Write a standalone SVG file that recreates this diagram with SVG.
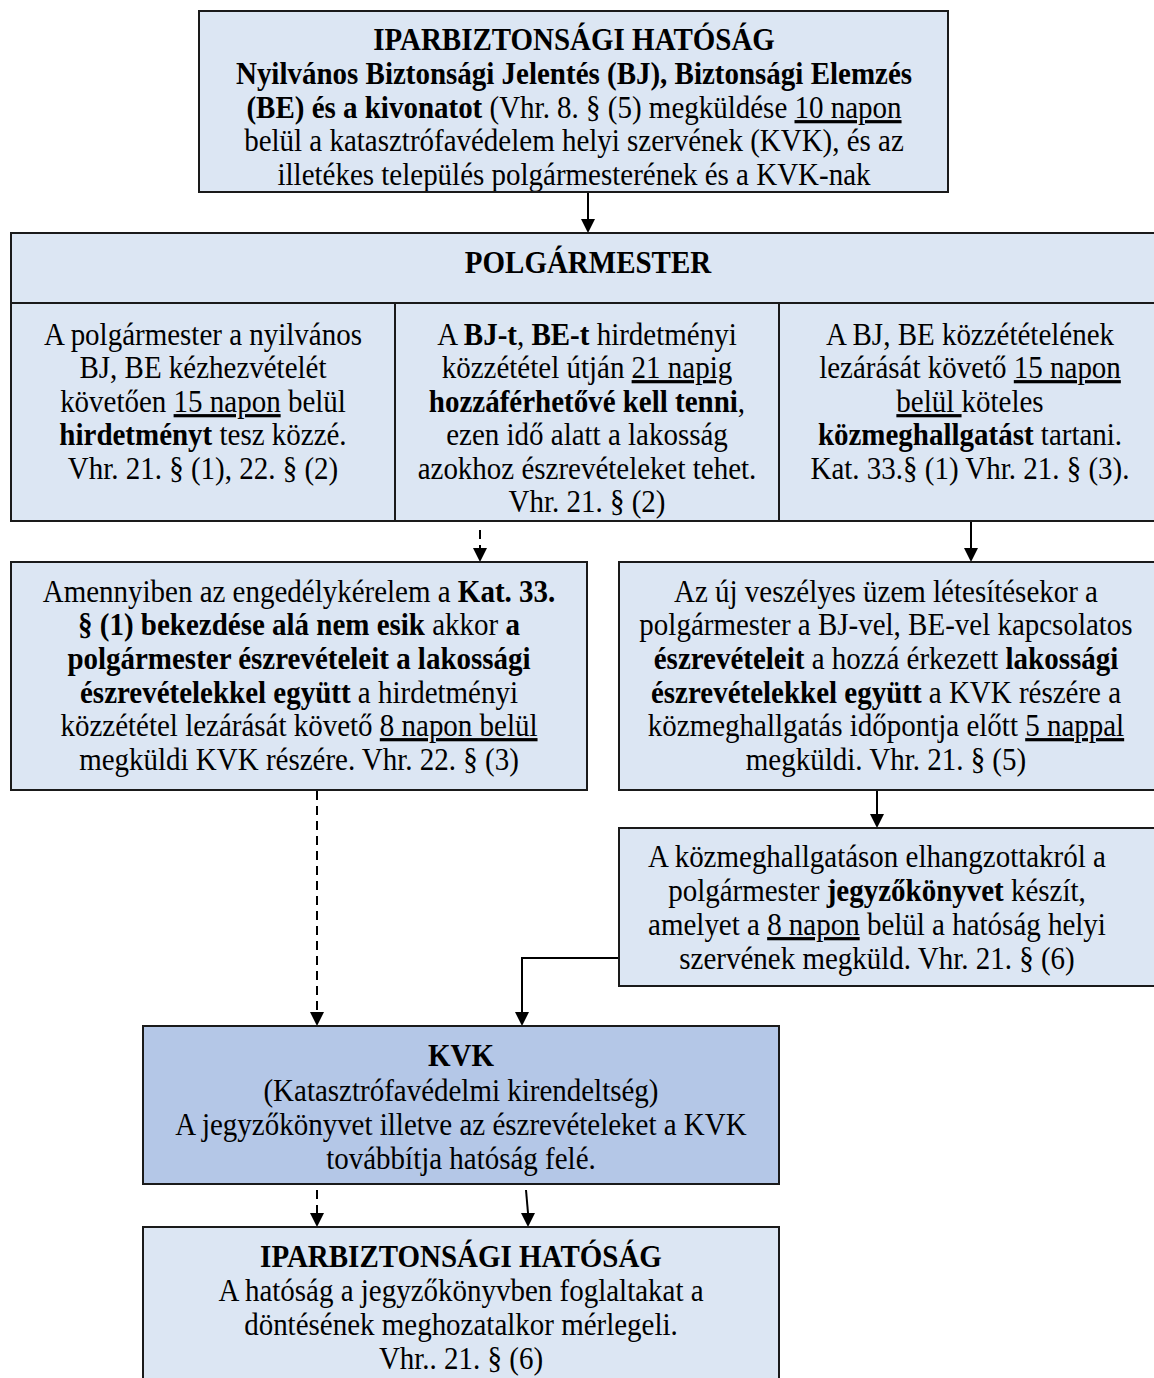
<svg xmlns="http://www.w3.org/2000/svg" width="1154" height="1378" viewBox="0 0 1154 1378">
<style>
.box{fill:#dce6f3;stroke:#1a1a1a;stroke-width:2}
.kvk{fill:#b4c7e7;stroke:#1a1a1a;stroke-width:2}
text{font-family:"Liberation Serif","Times New Roman",serif;font-size:32px;fill:#000;text-anchor:middle}
.b{font-weight:bold}
.u{text-decoration:underline}
.ln{stroke:#000;stroke-width:2;fill:none}
.dash{stroke:#000;stroke-width:2;fill:none;stroke-dasharray:9 6}
</style>
<defs>
<clipPath id="c1"><rect x="200" y="12" width="747" height="179"/></clipPath>
<clipPath id="c2"><rect x="396" y="304" width="382" height="216"/></clipPath>
</defs>

<g id="connectors">
<line class="ln" x1="588" y1="192" x2="588" y2="219"/>
<path d="M581,219 L595,219 L588,233 Z"/>
<line class="dash" x1="480" y1="530" x2="480" y2="548"/>
<path d="M473,548 L487,548 L480,562 Z"/>
<line class="ln" x1="971" y1="521" x2="971" y2="548"/>
<path d="M964,548 L978,548 L971,562 Z"/>
<line class="ln" x1="877" y1="790" x2="877" y2="814"/>
<path d="M870,814 L884,814 L877,828 Z"/>
<line class="dash" x1="317" y1="791" x2="317" y2="1012"/>
<path d="M310,1012 L324,1012 L317,1026 Z"/>
<path class="ln" d="M619,958 L522,958 L522,1012"/>
<path d="M515,1012 L529,1012 L522,1026 Z"/>
<line class="dash" x1="317" y1="1190" x2="317" y2="1213"/>
<path d="M310,1213 L324,1213 L317,1227 Z"/>
<line class="ln" x1="526" y1="1190" x2="528" y2="1213"/>
<path d="M521,1213 L535,1213 L528,1227 Z"/>
</g>

<g id="n1">
<rect class="box" x="199" y="11" width="749" height="181"/>
<g clip-path="url(#c1)">
<g transform="matrix(0.906,0,0,1,53.96,0)">
<text x="574" y="50" class="b">IPARBIZTONSÁGI HATÓSÁG</text>
<text x="574" y="84" class="b">Nyilvános Biztonsági Jelentés (BJ), Biztonsági Elemzés</text>
<text x="574" y="118"><tspan class="b">(BE) és a kivonatot</tspan> (Vhr. 8. § (5) megküldése <tspan class="u">10 napon</tspan></text>
<text x="574" y="151">belül a katasztrófavédelem helyi szervének (KVK), és az</text>
<text x="574" y="185">illetékes település polgármesterének és a KVK-nak</text>
</g>
</g>
</g>

<g id="n2">
<rect class="box" x="11" y="233" width="1160" height="70"/>
<g transform="matrix(0.906,0,0,1,55.27,0)">
<text x="588" y="273" class="b">POLGÁRMESTER</text>
</g>
</g>

<g id="n3">
<rect class="box" x="11" y="303" width="384" height="218"/>
<g transform="matrix(0.906,0,0,1,19.08,0)">
<text x="203" y="345">A polgármester a nyilvános</text>
<text x="203" y="378">BJ, BE kézhezvételét</text>
<text x="203" y="412">követően <tspan class="u">15 napon</tspan> belül</text>
<text x="203" y="445"><tspan class="b">hirdetményt</tspan> tesz közzé.</text>
<text x="203" y="479">Vhr. 21. § (1), 22. § (2)</text>
</g>
</g>

<g id="n4">
<rect class="box" x="395" y="303" width="384" height="218"/>
<g clip-path="url(#c2)">
<g transform="matrix(0.906,0,0,1,55.18,0)">
<text x="587" y="345">A <tspan class="b">BJ-t</tspan>, <tspan class="b">BE-t</tspan> hirdetményi</text>
<text x="587" y="378">közzététel útján <tspan class="u">21 napig</tspan></text>
<text x="587" y="412"><tspan class="b">hozzáférhetővé kell tenni</tspan>,</text>
<text x="587" y="445">ezen idő alatt a lakosság</text>
<text x="587" y="479">azokhoz észrevételeket tehet.</text>
<text x="587" y="512">Vhr. 21. § (2)</text>
</g>
</g>
</g>

<g id="n5">
<rect class="box" x="779" y="303" width="392" height="218"/>
<g transform="matrix(0.906,0,0,1,91.18,0)">
<text x="970" y="345">A BJ, BE közzétételének</text>
<text x="970" y="378">lezárását követő <tspan class="u">15 napon</tspan></text>
<text x="970" y="412"><tspan class="u">belül </tspan>köteles</text>
<text x="970" y="445"><tspan class="b">közmeghallgatást</tspan> tartani.</text>
<text x="970" y="479">Kat. 33.§ (1) Vhr. 21. § (3).</text>
</g>
</g>

<g id="n6">
<rect class="box" x="11" y="562" width="576" height="228"/>
<g transform="matrix(0.906,0,0,1,28.11,0)">
<text x="299" y="602">Amennyiben az engedélykérelem a <tspan class="b">Kat. 33.</tspan></text>
<text x="299" y="635"><tspan class="b">§ (1) bekezdése alá nem esik</tspan> akkor <tspan class="b">a</tspan></text>
<text x="299" y="669" class="b">polgármester észrevételeit a lakossági</text>
<text x="299" y="703"><tspan class="b">észrevételekkel együtt</tspan> a hirdetményi</text>
<text x="299" y="736">közzététel lezárását követő <tspan class="u">8 napon belül</tspan></text>
<text x="299" y="770">megküldi KVK részére. Vhr. 22. § (3)</text>
</g>
</g>

<g id="n7">
<rect class="box" x="619" y="562" width="552" height="228"/>
<g transform="matrix(0.906,0,0,1,83.28,0)">
<text x="886" y="602">Az új veszélyes üzem létesítésekor a</text>
<text x="886" y="635">polgármester a BJ-vel, BE-vel kapcsolatos</text>
<text x="886" y="669"><tspan class="b">észrevételeit</tspan> a hozzá érkezett <tspan class="b">lakossági</tspan></text>
<text x="886" y="703"><tspan class="b">észrevételekkel együtt</tspan> a KVK részére a</text>
<text x="886" y="736">közmeghallgatás időpontja előtt <tspan class="u">5 nappal</tspan></text>
<text x="886" y="770">megküldi. Vhr. 21. § (5)</text>
</g>
</g>

<g id="n8">
<rect class="box" x="619" y="828" width="552" height="158"/>
<g transform="matrix(0.906,0,0,1,82.44,0)">
<text x="877" y="867">A közmeghallgatáson elhangzottakról a</text>
<text x="877" y="901">polgármester <tspan class="b">jegyzőkönyvet</tspan> készít,</text>
<text x="877" y="935">amelyet a <tspan class="u">8 napon</tspan> belül a hatóság helyi</text>
<text x="877" y="969">szervének megküld. Vhr. 21. § (6)</text>
</g>
</g>

<g id="n9">
<rect class="kvk" x="143" y="1026" width="636" height="158"/>
<g transform="matrix(0.906,0,0,1,43.33,0)">
<text x="461" y="1066" class="b">KVK</text>
<text x="461" y="1101">(Katasztrófavédelmi kirendeltség)</text>
<text x="461" y="1135">A jegyzőkönyvet illetve az észrevételeket a KVK</text>
<text x="461" y="1169">továbbítja hatóság felé.</text>
</g>
</g>

<g id="n10">
<rect class="box" x="143" y="1227" width="636" height="170"/>
<g transform="matrix(0.906,0,0,1,43.33,0)">
<text x="461" y="1267" class="b">IPARBIZTONSÁGI HATÓSÁG</text>
<text x="461" y="1301">A hatóság a jegyzőkönyvben foglaltakat a</text>
<text x="461" y="1335">döntésének meghozatalkor mérlegeli.</text>
<text x="461" y="1369">Vhr.. 21. § (6)</text>
</g>
</g>
</svg>
